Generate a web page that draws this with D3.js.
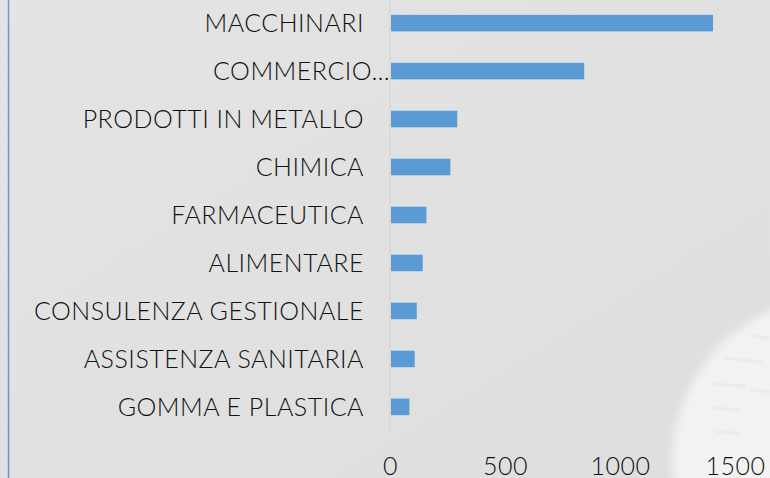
<!DOCTYPE html>
<html>
<head>
<meta charset="utf-8">
<script src="https://cdn.jsdelivr.net/npm/d3@7"></script>
<style>
  html, body { margin: 0; padding: 0; background: #e2e2e2; }
  svg { display: block; }
</style>
</head>
<body>
<svg id="chart" width="770" height="478"></svg>
<script>
const categories = [
  "MACCHINARI",
  "COMMERCIO…",
  "PRODOTTI IN METALLO",
  "CHIMICA",
  "FARMACEUTICA",
  "ALIMENTARE",
  "CONSULENZA GESTIONALE",
  "ASSISTENZA SANITARIA",
  "GOMMA E PLASTICA"
];
const values = [1400, 840, 288, 258, 154, 138, 112, 103, 80];
const tickValues = [0, 500, 1000, 1500];

const W = 770, H = 478;
const svg = d3.select("#chart");
const defs = svg.append("defs");

// background
const grad = defs.append("linearGradient").attr("id", "bg").attr("x1", 0).attr("y1", 0).attr("x2", 1).attr("y2", 1);
grad.append("stop").attr("offset", "0%").attr("stop-color", "#e4e4e4");
grad.append("stop").attr("offset", "60%").attr("stop-color", "#e0e0e0");
grad.append("stop").attr("offset", "100%").attr("stop-color", "#dedede");
svg.append("rect").attr("width", W).attr("height", H).attr("fill", "url(#bg)");

const blur = defs.append("filter").attr("id", "blur").attr("x", "-20%").attr("y", "-20%").attr("width", "140%").attr("height", "140%");
blur.append("feGaussianBlur").attr("stdDeviation", 4);
const blur2 = defs.append("filter").attr("id", "blur2");
blur2.append("feGaussianBlur").attr("stdDeviation", 1.2);

svg.append("circle").attr("cx", 838).attr("cy", 462).attr("r", 166)
  .attr("fill", "#f2f2f2").attr("filter", "url(#blur)");
const faint = svg.append("g").attr("stroke", "#dadada").attr("stroke-width", 1.5).attr("filter", "url(#blur2)").attr("opacity", 0.7);
[[752, 336, 770, 338], [725, 358, 762, 362], [712, 384, 745, 386], [712, 408, 742, 410], [716, 432, 740, 433], [750, 390, 770, 392]]
  .forEach(d => faint.append("line").attr("x1", d[0]).attr("y1", d[1]).attr("x2", d[2]).attr("y2", d[3]));

// left border line
svg.append("line").attr("x1", 8.5).attr("x2", 8.5).attr("y1", 0).attr("y2", H)
  .attr("stroke", "#5b9bd5").attr("stroke-width", 1.5);

const x = d3.scaleLinear().domain([0, 1500]).range([390, 735]);
const y = d3.scaleBand().domain(categories).range([-1, 431]).paddingInner(0.655).paddingOuter(0.33);

const font = "Lato, 'Open Sans', sans-serif";

// vertical axis line
svg.append("line").attr("x1", x(0)).attr("x2", x(0)).attr("y1", 0).attr("y2", 431)
  .attr("stroke", "#d2d2d2").attr("stroke-width", 1);

// bars
svg.append("g").selectAll("rect").data(values).join("rect")
  .attr("x", x(0) + 1)
  .attr("y", (d, i) => y(categories[i]))
  .attr("width", d => x(d) - x(0))
  .attr("height", y.bandwidth())
  .attr("fill", "#5b9bd5");

// category labels
svg.append("g").selectAll("text").data(categories).join("text")
  .attr("x", d => d.endsWith("…") ? x(0) : 364)
  .attr("y", d => y(d) + y.bandwidth() / 2)
  .attr("dy", "0.35em")
  .attr("text-anchor", "end")
  .attr("font-family", font)
  .attr("font-weight", 300)
  .attr("font-size", 25)
  .attr("letter-spacing", "0.5px")
  .attr("fill", "#111")
  .text(d => d);

// x axis tick labels
const xAxis = d3.axisBottom(x).tickValues(tickValues).tickFormat(d3.format("d")).tickSize(0).tickPadding(0);
const gx = svg.append("g").attr("transform", "translate(0,452)").call(xAxis);
gx.select(".domain").remove();
gx.selectAll("text")
  .attr("font-family", font)
  .attr("font-weight", 300)
  .attr("font-size", 25)
  .attr("letter-spacing", "0.5px")
  .attr("fill", "#111")
  .attr("dy", "0.9em");
</script>
</body>
</html>
